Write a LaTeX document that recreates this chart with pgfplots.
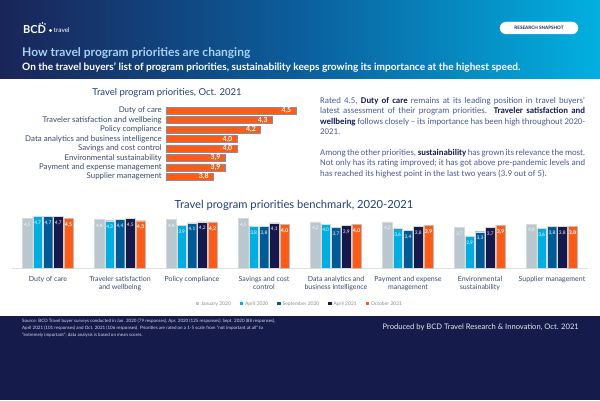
\documentclass[border=0pt]{standalone}
\usepackage{pgfplots}
\pgfplotsset{compat=1.18}
\usepackage{fontspec}
\setmainfont{Lato}
\newfontfamily\carlito{Carlito}
\definecolor{hdrL}{HTML}{1A2458}
\definecolor{hdrM}{HTML}{0B5E9C}
\definecolor{hdrR}{HTML}{02B0E0}
\definecolor{navy}{HTML}{151B4B}
\definecolor{cjan}{HTML}{B9C7D0}
\definecolor{capr}{HTML}{00AEDF}
\definecolor{csep}{HTML}{005A96}
\definecolor{capt}{HTML}{15194B}
\definecolor{coct}{HTML}{FF5B14}
\definecolor{ttl}{HTML}{203F7C}
\definecolor{lbl}{HTML}{3B4A6E}
\definecolor{para}{HTML}{4B5A98}
\definecolor{parab}{HTML}{161C58}
\definecolor{barline}{HTML}{8090A8}
\definecolor{lightt}{HTML}{A5D2F2}
\begin{document}
\begin{tikzpicture}[x=1pt,y=1pt]
\useasboundingbox (0,0) rectangle (600,400);
\fill[white] (0,0) rectangle (600,400);
% header
\shade[left color=hdrL, right color=hdrR, middle color=hdrM] (0,322) rectangle (600,400);
\node[anchor=base west, inner sep=0, text=white, font=\bfseries\fontsize{11}{12}\selectfont] at (23,366) {BCD};
\fill[white] (50.5,369.5) circle (1.6);
\fill[white] (40,376) circle (0.8);\fill[white] (42.5,377) circle (0.8);\fill[white] (45,376) circle (0.8);
\node[anchor=base west, inner sep=0, text=white, font=\fontsize{6.5}{7}\selectfont] at (53.5,367) {travel};
\node[draw=white, fill=white, rounded corners=6pt, inner sep=0, minimum width=78pt, minimum height=12pt, text=hdrL, font=\bfseries\fontsize{4.6}{5}\selectfont] at (539,372) {RESEARCH SNAPSHOT};
\node[anchor=base west, inner sep=0, text=lightt, font=\bfseries\fontsize{12}{13}\selectfont] at (22,344) {How travel program priorities are changing};
\node[anchor=base west, inner sep=0, text=white, font=\bfseries\fontsize{10.1}{10}\selectfont] at (22,330) {On the travel buyers’ list of program priorities, sustainability keeps growing its importance at the highest speed.};
% footer
\fill[navy] (0,0) rectangle (600,84);
\node[anchor=north west, inner sep=0, text=white!85!navy, align=left, font=\fontsize{4.5}{6.8}\selectfont] at (22,81) {Source: BCD Travel buyer surveys conducted in Jan. 2020 (79 responses), Apr. 2020 (125 responses), Sept. 2020 (88 responses),\\April 2021 (101 responses) and Oct. 2021 (106 responses). Priorities are rated on a 1-5 scale from "not important at all" to\\"extremely important"; data analysis is based on mean scores.};
\node[anchor=base east, inner sep=0, text=white!90!navy, font=\fontsize{7.6}{8}\selectfont] at (579,70.5) {Produced by BCD Travel Research \& Innovation, Oct. 2021};
% titles
\node[text=ttl, font=\fontsize{9.5}{10}\selectfont] at (167,307) {Travel program priorities, Oct. 2021};
\node[text=ttl, font=\fontsize{11.2}{12}\selectfont] at (294,195) {Travel program priorities benchmark, 2020-2021};
% paragraph
\node[anchor=north west, inner sep=0] at (320,303) {\begin{minipage}{265pt}\carlito\fontsize{8.8}{10.5}\selectfont\color{para}\hyphenpenalty=10000\exhyphenpenalty=0
Rated 4.5, \textbf{\color{parab}Duty of care} remains at its leading position in travel buyers’\linebreak latest assessment of their program priorities. \textbf{\color{parab}Traveler satisfaction and}\linebreak \textbf{\color{parab}wellbeing} follows closely – its importance has been high throughout 2020-\linebreak 2021.\par\vspace{10pt}
Among the other priorities, \textbf{\color{parab}sustainability} has grown its relevance the most.\linebreak Not only has its rating improved; it has got above pre-pandemic levels and\linebreak has reached its highest point in the last two years (3.9 out of 5).
\end{minipage}};
% top chart
\begin{axis}[
  at={(166pt,218.6pt)}, anchor=south west,
  scale only axis, width=129.8pt, height=75.4pt,
  xbar, bar width=7pt,
  xmin=3.4, xmax=4.5, ymin=-0.5, ymax=7.5, y dir=reverse,
  axis line style={draw=none}, major tick length=0pt,
  xtick=\empty, ytick={0,...,7},
  yticklabels={Duty of care, Traveler satisfaction and wellbeing, Policy compliance, Data analytics and business intelligence, Savings and cost control, Environmental sustainability, Payment and expense management, Supplier management},
  yticklabel style={font=\fontsize{7.9}{8}\selectfont, text=lbl, inner sep=1pt, xshift=-3pt},
  clip=false,
  nodes near coords,
  nodes near coords style={anchor=east, xshift=-1pt, text=white, font=\bfseries\fontsize{7}{8}\selectfont},
  /pgf/number format/.cd, use comma, fixed, fixed zerofill, precision=1, assume math mode=true,
]
\addplot[fill=coct, draw=barline, line width=0.4pt] coordinates {
  (4.5,0) (4.3,1) (4.2,2) (4.0,3) (4.0,4) (3.9,5) (3.9,6) (3.8,7)};
\end{axis}
% bottom chart
\begin{axis}[
  at={(12pt,132pt)}, anchor=south west,
  scale only axis, width=576pt, height=55pt,
  ybar=0.8pt, bar width=9.5pt,
  xmin=-0.5, xmax=7.5, ymin=0, ymax=5,
  axis x line*=bottom, axis y line=none,
  x axis line style={-, draw=black!12, line width=0.6pt},
  major tick length=0pt,
  xtick={0,...,7},
  xticklabels={Duty of care, {Traveler satisfaction\\and wellbeing}, Policy compliance, {Savings and cost\\control}, {Data analytics and\\business intelligence}, {Payment and expense\\management}, {Environmental\\sustainability}, Supplier management},
  xticklabel style={align=center, font=\fontsize{7}{8.3}\selectfont, text=lbl, yshift=-4.5pt},
  clip=false,
  nodes near coords,
  nodes near coords style={anchor=north, yshift=-1pt, text=white, font=\fontsize{4.8}{5}\selectfont},
  /pgf/number format/.cd, use comma, fixed, fixed zerofill, precision=1, assume math mode=true,
  /pgfplots/legend columns=5,
  /pgfplots/legend style={at={(0.5,-0.655)}, anchor=center, draw=none, fill=none, font=\fontsize{5}{6}\selectfont, text=black!45, /tikz/every even column/.append style={column sep=7pt}},
  /pgfplots/legend image code/.code={\fill[#1, draw=none] (0pt,-1.3pt) rectangle (3.2pt,1.9pt);},
]
\addplot[fill=cjan, draw=black!15, line width=0.3pt, nodes near coords style={text=white!90!cjan}] coordinates {(0,4.5) (1,4.4) (2,4.4) (3,4.5) (4,4.2) (5,4.2) (6,3.7) (7,4.0)};
\addplot[fill=capr, draw=black!15, line width=0.3pt] coordinates {(0,4.7) (1,4.3) (2,3.9) (3,3.8) (4,4.0) (5,3.6) (6,2.9) (7,3.6)};
\addplot[fill=csep, draw=black!15, line width=0.3pt] coordinates {(0,4.7) (1,4.4) (2,4.1) (3,3.8) (4,3.7) (5,3.4) (6,3.3) (7,3.8)};
\addplot[fill=capt, draw=black!15, line width=0.3pt] coordinates {(0,4.7) (1,4.5) (2,4.2) (3,4.1) (4,3.9) (5,3.8) (6,3.7) (7,3.8)};
\addplot[fill=coct, draw=black!25, line width=0.3pt, nodes near coords style={font=\bfseries\fontsize{5.2}{5}\selectfont}] coordinates {(0,4.5) (1,4.3) (2,4.2) (3,4.0) (4,4.0) (5,3.9) (6,3.9) (7,3.8)};
\legend{January 2020, April 2020, September 2020, April 2021, October 2021}
\end{axis}
\end{tikzpicture}
\end{document}
